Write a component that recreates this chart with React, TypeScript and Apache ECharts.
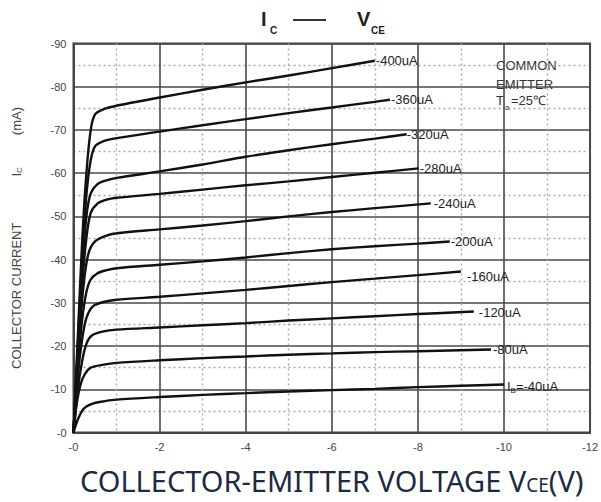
import React, { useEffect, useRef } from "react";
import * as echarts from "echarts";

// Collector-emitter voltage (V) and collector current (mA)
const ib400 = [[0,0],[-0.1,-22],[-0.2,-44],[-0.3,-60],[-0.4,-70],[-0.5,-73.6],[-0.7,-74.8],[-1,-75.6],[-2,-77.5],[-3,-79.3],[-4,-81],[-5,-82.6],[-6,-84.3],[-7,-86]];
const ib360 = [[0,0],[-0.1,-20],[-0.2,-40],[-0.3,-55],[-0.4,-63],[-0.5,-66.2],[-0.7,-67.4],[-1,-68.1],[-2,-69.6],[-3,-71.1],[-4,-72.5],[-5,-73.9],[-6,-75.2],[-7,-76.5],[-7.35,-77]];
const ib320 = [[0,0],[-0.1,-19],[-0.2,-37],[-0.3,-50],[-0.4,-55.3],[-0.55,-57.4],[-0.75,-58.3],[-1,-58.9],[-2,-60.4],[-3,-62],[-4,-63.8],[-5,-65.3],[-6,-66.7],[-7,-68],[-7.74,-69]];
const ib280 = [[0,0],[-0.1,-18],[-0.2,-34],[-0.3,-45],[-0.4,-50.8],[-0.55,-52.9],[-0.75,-53.8],[-1,-54.3],[-2,-55.2],[-3,-56.2],[-4,-57.2],[-5,-58.1],[-6,-59.1],[-7,-60.1],[-8.02,-61.1]];
const ib240 = [[0,0],[-0.1,-17],[-0.17,-27],[-0.25,-35.5],[-0.35,-41.5],[-0.5,-44.2],[-0.75,-45.5],[-1,-46.1],[-2,-47],[-3,-47.9],[-4,-48.9],[-5,-50],[-6,-51],[-7,-51.9],[-8.3,-53]];
const ib200 = [[0,0],[-0.1,-15],[-0.2,-26],[-0.3,-32.5],[-0.4,-35.4],[-0.55,-36.8],[-0.75,-37.5],[-1,-38],[-2,-38.8],[-3,-39.6],[-4,-40.5],[-5,-41.5],[-6,-42.4],[-7,-43.1],[-8,-43.7],[-8.74,-44.2]];
const ib160 = [[0,0],[-0.1,-13],[-0.2,-21.5],[-0.3,-26.5],[-0.45,-29.2],[-0.7,-30.2],[-1,-30.7],[-2,-31.4],[-3,-32.2],[-4,-33],[-5,-33.9],[-6,-34.8],[-7,-35.6],[-8,-36.4],[-9,-37.25]];
const ib120 = [[0,0],[-0.1,-10],[-0.2,-16.5],[-0.3,-20.5],[-0.42,-22.4],[-0.7,-23.4],[-1,-23.8],[-2,-24.3],[-3,-24.8],[-4,-25.3],[-5,-25.9],[-6,-26.4],[-7,-26.9],[-8,-27.4],[-9.3,-28]];
const ib80 = [[0,0],[-0.08,-7],[-0.17,-11.3],[-0.27,-13.6],[-0.4,-15],[-0.7,-15.7],[-1,-16.1],[-2,-16.7],[-3,-17.2],[-4,-17.6],[-5,-18],[-6,-18.3],[-7,-18.6],[-8,-18.8],[-9.7,-19.2]];
const ib40 = [[0,0],[-0.1,-3],[-0.2,-5],[-0.3,-6],[-0.45,-6.7],[-0.7,-7.2],[-1,-7.6],[-2,-8.2],[-3,-8.7],[-4,-9.1],[-5,-9.5],[-6,-9.8],[-7,-10.1],[-8,-10.5],[-9,-10.8],[-10,-11.1]];

const curveNames = ["-400uA", "-360uA", "-320uA", "-280uA", "-240uA", "-200uA", "-160uA", "-120uA", "-80uA", "{t|I}{sb|B}{t|=-40uA}"];
const curveData = [ib400, ib360, ib320, ib280, ib240, ib200, ib160, ib120, ib80, ib40];
const labelOffsets = [[9, 0], [9, 0], [8, 0], [9, 0], [11, 0], [9, 0], [14, 5], [13, 1], [10, 0], [11, 2]];

const xTicks = [-12, -10, -8, -6, -4, -2, 0];
const yTicks = [-90, -80, -70, -60, -50, -40, -30, -20, -10, 0];

export default function App() {
  const ref = useRef<HTMLDivElement>(null);
  useEffect(() => {
    const chart = echarts.init(ref.current!, null, { renderer: "svg" });
    const fmt = (v: number) => (v === 0 ? "-0" : String(v));
    const font = "Liberation Sans, Arial, sans-serif";
    const series = curveData.map((d, i) => ({
      type: "line",
      name: curveNames[i],
      data: d,
      smooth: 0.3,
      showSymbol: false,
      lineStyle: { color: "#111", width: 2.4 },
      endLabel: {
        show: true,
        formatter: curveNames[i],
        align: "left",
        color: "#222",
        fontFamily: font,
        fontSize: 13,
        offset: labelOffsets[i],
        rich: {
          t: { fontSize: 13, color: "#222", fontFamily: font },
          sb: { fontSize: 8, color: "#222", padding: [8, 0, 0, 0], fontFamily: font },
        },
      },
    }));
    chart.setOption({
      animation: false,
      grid: { left: 73.5, right: 10.5, top: 43.5, bottom: 69.5, show: true, borderColor: "#444", borderWidth: 2 },
      xAxis: {
        type: "value",
        min: xTicks[0],
        max: xTicks[xTicks.length - 1],
        interval: 2,
        inverse: true,
        axisLine: { show: true, lineStyle: { color: "#444", width: 2 } },
        axisTick: { show: false },
        axisLabel: { formatter: fmt, color: "#444", fontSize: 11, fontFamily: font, margin: 9 },
        splitLine: { show: true, lineStyle: { color: "#4a4a4a", width: 1.6 } },
        minorTick: { show: false, splitNumber: 2 },
        minorSplitLine: { show: true, lineStyle: { color: "#aaa", width: 1.4, type: [2, 3] } },
      },
      yAxis: {
        type: "value",
        min: yTicks[0],
        max: yTicks[yTicks.length - 1],
        interval: 10,
        inverse: true,
        name: "{a|COLLECTOR CURRENT}{i|I}{s|C}{m|(mA)}",
        nameLocation: "middle",
        nameRotate: 90,
        nameGap: 50,
        nameTextStyle: {
          rich: {
            a: { fontSize: 13, color: "#444", fontFamily: font },
            i: { fontSize: 13, color: "#444", fontFamily: font, padding: [0, 0, 0, 46] },
            s: { fontSize: 8, color: "#444", padding: [7, 0, 0, 0], fontFamily: font },
            m: { fontSize: 13, color: "#444", fontFamily: font, padding: [0, 0, 0, 32] },
          },
        },
        axisLine: { show: true, lineStyle: { color: "#444", width: 2 } },
        axisTick: { show: false },
        axisLabel: { formatter: fmt, color: "#444", fontSize: 11, fontFamily: font, margin: 7 },
        splitLine: { show: true, lineStyle: { color: "#4a4a4a", width: 1.6 } },
        minorTick: { show: false, splitNumber: 2 },
        minorSplitLine: { show: true, lineStyle: { color: "#aaa", width: 1.4, type: [2, 3] } },
      },
      graphic: [
        { type: "text", left: 261, top: 9, style: { text: "I", font: "bold 20px " + font, fill: "#222" } },
        { type: "text", left: 270, top: 25, style: { text: "C", font: "bold 10px " + font, fill: "#222" } },
        { type: "line", shape: { x1: 293, y1: 20, x2: 326, y2: 20 }, style: { stroke: "#333", lineWidth: 2 } },
        { type: "text", left: 357, top: 9, style: { text: "V", font: "bold 20px " + font, fill: "#222" } },
        { type: "text", left: 371, top: 25, style: { text: "CE", font: "bold 10px " + font, fill: "#222" } },
        {
          type: "text", left: 496, top: 56,
          style: { text: "COMMON\nEMITTER", font: "13px " + font, fill: "#333", lineHeight: 19 },
        },
        { type: "text", left: 496, top: 94, style: { text: "T", font: "13px " + font, fill: "#333" } },
        { type: "text", left: 505, top: 103, style: { text: "a", font: "8px " + font, fill: "#333" } },
        { type: "text", left: 511, top: 94, style: { text: "=25℃", font: "13px " + font, fill: "#333" } },
        {
          type: "text", left: 80, top: 466,
          style: {
            text: "{a|COLLECTOR-EMITTER VOLTAGE V}{s|CE}{a|(V)}",
            rich: {
              a: { fontSize: 29, fontFamily: "Noto Sans, sans-serif", fill: "#1c2a45", color: "#1c2a45" },
              s: { fontSize: 19, fontFamily: "Noto Sans, sans-serif", fill: "#1c2a45", color: "#1c2a45", padding: [8, 0, 0, 0] },
            },
          },
        },
      ],
      series,
    });
    return () => chart.dispose();
  }, []);
  return <div ref={ref} style={{ width: 601, height: 502, position: "absolute", left: 0, top: 0 }} />;
}
